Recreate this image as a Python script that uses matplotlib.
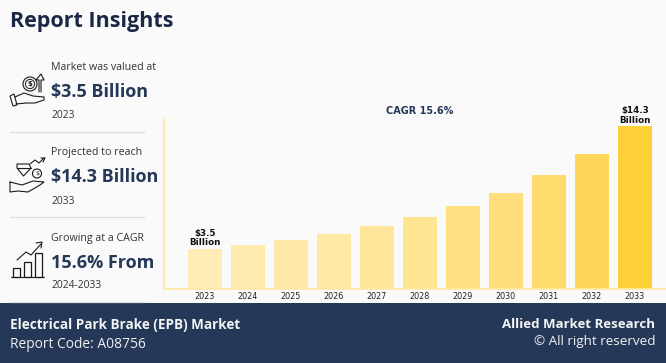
import matplotlib
matplotlib.use('Agg')
import matplotlib.pyplot as plt
from matplotlib.patches import Circle, Rectangle, Polygon

years = ['2023', '2024', '2025', '2026', '2027', '2028', '2029', '2030', '2031', '2032', '2033']
values = [3.5, 3.83, 4.27, 4.8, 5.5, 6.3, 7.26, 8.45, 10.0, 11.84, 14.3]
bar_colors = ['#FFEDB5', '#FFEBAE', '#FFE9A8', '#FFE8A2', '#FFE69A', '#FFE492',
              '#FFE083', '#FFDF7C', '#FFDB6D', '#FFD65A', '#FFD139']
end_labels = {0: '$3.5\nBillion', 10: '$14.3\nBillion'}

W, H = 666, 363
NAVY = '#253858'
BG = '#FAFAFA'
BODY = 'Open Sans'

fig = plt.figure(figsize=(W / 100, H / 100), dpi=100, facecolor=BG)

# overlay in pixel coordinates, for the text panel and footer
bg = fig.add_axes([0, 0, 1, 1])
bg.set_xlim(0, W)
bg.set_ylim(H, 0)
bg.axis('off')

# chart
left, right, top, bottom = 163.5, 666, 100, 288.5
ax = fig.add_axes([left / W, 1 - bottom / H, (right - left) / W, (bottom - top) / H])
ax.patch.set_alpha(0)
ax.set_xlim((left - 204.8) / 43, (right - 204.8) / 43)
ax.set_ylim(0, (bottom - top) / 11.36)
ax.bar(range(len(years)), values, width=0.8, color=bar_colors, zorder=2)
ax.set_xticks(range(len(years)), years, fontsize=5.8, family='DejaVu Sans', color='#222222')
ax.tick_params(axis='x', length=0, pad=2.5)
ax.set_yticks([])
for s in ['top', 'right']:
    ax.spines[s].set_visible(False)
for s in ['left', 'bottom']:
    ax.spines[s].set_color('#FFE9A8')
    ax.spines[s].set_linewidth(1.3)
ax.spines['left'].set_bounds(0, (bottom - 118) / 11.36)
for i, label in end_labels.items():
    ax.text(i, values[i] + 0.12, label, ha='center', va='bottom', fontsize=6.3,
            fontweight='bold', family='DejaVu Sans', color='#111111', linespacing=1.05)

bg.text(419.5, 111, 'CAGR 15.6%', ha='center', va='center', fontsize=7.0,
        fontweight='bold', family='DejaVu Sans', color=NAVY)

# left panel
bg.text(10, 21, 'Report Insights', ha='left', va='center', fontsize=15.5,
        fontweight='bold', family=BODY, color='#1B2845')

rows = [
    (68, 'Market was valued at', '$3.5 Billion', 92.5, '2023', 116),
    (153, 'Projected to reach', '$14.3 Billion', 177, '2033', 201),
    (238, 'Growing at a CAGR', '15.6% From', 262.5, '2024-2033', 286),
]
for y1, small, big, y2, foot, y3 in rows:
    bg.text(51, y1, small, ha='left', va='center', fontsize=7.7, family=BODY, color='#333333')
    bg.text(51, y2, big, ha='left', va='center', fontsize=13, fontweight='bold',
            family=BODY, color=NAVY)
    bg.text(51, y3, foot, ha='left', va='center', fontsize=7.4, family=BODY, color='#333333')
for y in [132, 217, 302]:
    bg.plot([10, 144], [y, y], color='#DDDDDD', lw=0.9)

# icons
ic = dict(color='#1A1A1A', lw=0.8, solid_capstyle='round')
bg.add_patch(Circle((30, 84), 7, fill=False, ec='#1A1A1A', lw=0.8))
bg.add_patch(Circle((30, 84), 4.6, fill=False, ec='#1A1A1A', lw=0.7))
bg.text(30, 84.3, '$', ha='center', va='center', fontsize=5, fontweight='bold', color='#1A1A1A')
bg.plot([39, 39, 36, 41, 44, 41, 41], [92, 80, 80, 74, 80, 80, 92], **ic)
bg.plot([15, 24, 33, 44, 44, 35, 26, 16], [97, 93, 96, 97, 100, 103, 103, 104], **ic)
bg.add_patch(Polygon([(10, 96), (14, 94), (17, 105), (13, 106)], fill=False, ec='#1A1A1A', lw=0.8))

bg.add_patch(Polygon([(17, 164), (29, 164), (31, 168), (23.5, 176), (17, 168)], fill=False,
                     ec='#1A1A1A', lw=0.8))
bg.plot([17, 31], [168, 168], **ic)
bg.add_patch(Circle((37, 173.5), 4.5, fill=False, ec='#1A1A1A', lw=0.8))
bg.text(37, 173.8, '$', ha='center', va='center', fontsize=4.5, color='#1A1A1A')
bg.plot([30, 35, 39, 44], [164, 160, 163, 158], **ic)
bg.plot([41, 45, 43], [158, 158, 162], **ic)
bg.plot([10, 10, 18, 28, 40, 44, 33, 22, 10], [182, 192, 191, 192, 185, 182, 181, 185, 182], **ic)

for x0, h in zip([13, 24, 35], [9, 15, 24]):
    bg.add_patch(Rectangle((x0, 277 - h), 6.5, h, fill=False, ec='#1A1A1A', lw=0.9))
bg.plot([11, 44], [277, 277], **ic)
bg.plot([17, 26, 31, 41], [260, 252, 255, 244], **ic)
bg.plot([36, 42, 41], [243, 242, 248], **ic)

# footer
bg.add_patch(Rectangle((0, 303), W, 60, color=NAVY, lw=0))
bg.text(10, 324.5, 'Electrical Park Brake (EPB) Market', ha='left', va='center', fontsize=9.75,
        fontweight='bold', family=BODY, color='#F4F4F4')
bg.text(10, 344.5, 'Report Code: A08756', ha='left', va='center', fontsize=9.9,
        family=BODY, color='#F0F0F0')
bg.text(655, 325, 'Allied Market Research', ha='right', va='center', fontsize=9.5,
        fontweight='bold', family=BODY, color='#F4F4F4')
bg.text(655, 341.5, '© All right reserved', ha='right', va='center', fontsize=9.7,
        family=BODY, color='#F0F0F0')

fig.savefig('out.png', dpi=100, facecolor=BG)
